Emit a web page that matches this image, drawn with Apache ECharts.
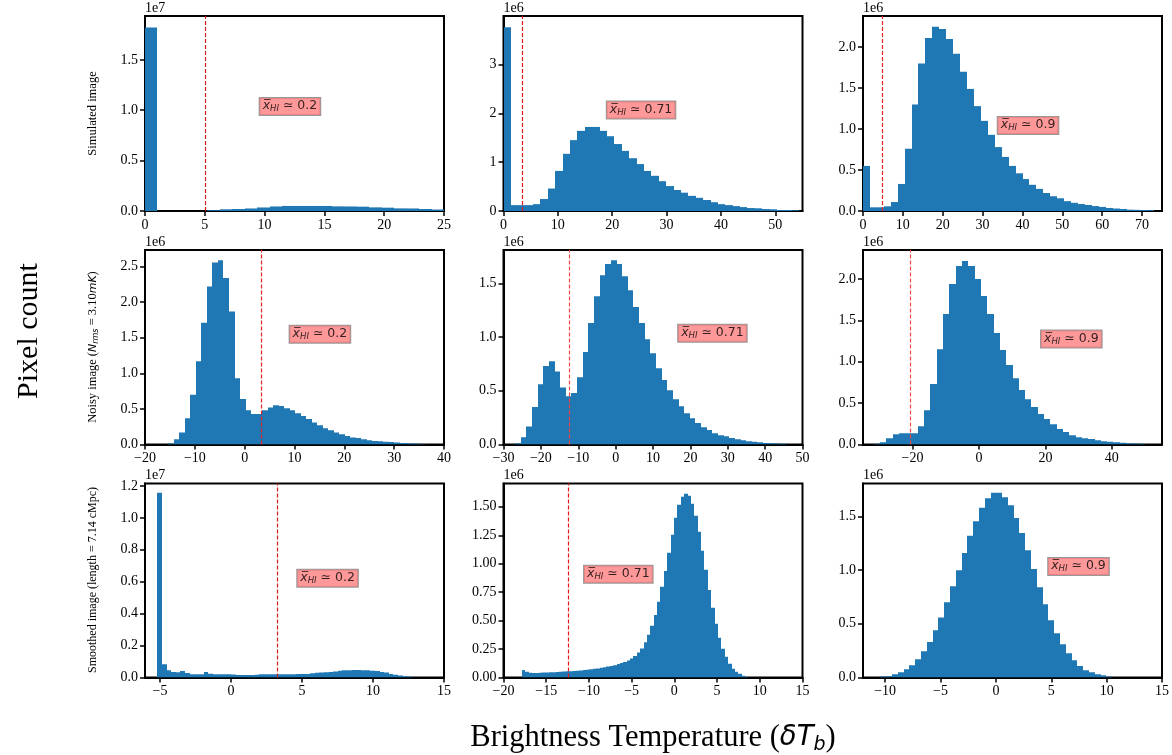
<!DOCTYPE html>
<html><head><meta charset="utf-8">
<script src="https://cdn.jsdelivr.net/npm/echarts@6/dist/echarts.min.js"></script>
<style>html,body{margin:0;padding:0;background:#fff}#c{width:1172px;height:755px}</style>
</head><body><div id="c"></div>
<script>
// ---------- DATA (counts in units of the axis offset: 1e7 or 1e6) ----------
const rowLabels = ['Simulated image', 'Noisy image', 'Smoothed image'];
const neutralFractions = ['0.2', '0.71', '0.9'];
const offsetTexts = ['1e7', '1e6', '1e6', '1e6', '1e6', '1e6', '1e7', '1e6', '1e6'];

const binStarts = [0, 0, 0, -15.3, -26.9, -31.7, -5.19, -17.86, -10.42];
const binWidths = [1.0417, 1.36, 1.74, 1.105, 1.508, 1.9, 0.326, 0.396, 0.523];

const simCounts02 = [1.82, 0, 0, 0, 0, 0.008, 0.017, 0.02, 0.025, 0.035, 0.045, 0.05, 0.05, 0.05, 0.05, 0.046, 0.045, 0.043, 0.036, 0.033, 0.026, 0.025, 0.02, 0.015];
const simCounts071 = [3.76, 0.12, 0.12, 0.12, 0.14, 0.245, 0.46, 0.82, 1.17, 1.45, 1.64, 1.72, 1.72, 1.64, 1.53, 1.37, 1.23, 1.08, 0.96, 0.82, 0.72, 0.61, 0.51, 0.43, 0.375, 0.31, 0.27, 0.225, 0.18, 0.14, 0.12, 0.10, 0.08, 0.06, 0.055, 0.04, 0.035, 0.02, 0.02, 0.015];
const simCounts09 = [0.55, 0.045, 0.045, 0.057, 0.11, 0.33, 0.76, 1.30, 1.80, 2.11, 2.25, 2.22, 2.10, 1.92, 1.70, 1.49, 1.28, 1.10, 0.93, 0.78, 0.66, 0.55, 0.46, 0.39, 0.32, 0.27, 0.22, 0.18, 0.155, 0.12, 0.10, 0.085, 0.073, 0.06, 0.05, 0.037, 0.03, 0.025, 0.016, 0.014, 0.012, 0.01];
const noisyCounts02 = [0.015, 0.075, 0.17, 0.37, 0.70, 1.17, 1.71, 2.22, 2.56, 2.59, 2.34, 1.87, 0.93, 0.64, 0.48, 0.43, 0.43, 0.48, 0.52, 0.55, 0.54, 0.51, 0.48, 0.44, 0.40, 0.36, 0.31, 0.27, 0.23, 0.20, 0.17, 0.145, 0.12, 0.10, 0.09, 0.075, 0.06, 0.05, 0.045, 0.04, 0.035, 0.028, 0.022, 0.018, 0.014, 0.01, 0.005];
const noisyCounts071 = [0.012, 0.068, 0.167, 0.35, 0.56, 0.73, 0.775, 0.68, 0.53, 0.45, 0.48, 0.625, 0.86, 1.13, 1.38, 1.575, 1.68, 1.715, 1.68, 1.565, 1.435, 1.28, 1.13, 0.98, 0.85, 0.71, 0.60, 0.505, 0.42, 0.355, 0.29, 0.245, 0.20, 0.16, 0.135, 0.105, 0.087, 0.077, 0.06, 0.05, 0.04, 0.03, 0.025, 0.02, 0.015, 0.012, 0.01, 0.006];
const noisyCounts09 = [0.008, 0.028, 0.077, 0.125, 0.137, 0.137, 0.137, 0.22, 0.415, 0.73, 1.15, 1.577, 1.94, 2.157, 2.218, 2.157, 2.0, 1.794, 1.577, 1.347, 1.141, 0.96, 0.80, 0.657, 0.548, 0.452, 0.367, 0.307, 0.246, 0.186, 0.15, 0.113, 0.089, 0.077, 0.065, 0.052, 0.04, 0.032, 0.028, 0.02, 0.016, 0.012, 0.008];
const smoothCounts02 = [1.157, 0.083, 0.046, 0.035, 0.033, 0.04, 0.028, 0.021, 0.021, 0.021, 0.035, 0.023, 0.021, 0.021, 0.021, 0.02, 0.019, 0.015, 0.015, 0.016, 0.016, 0.018, 0.02, 0.021, 0.021, 0.021, 0.021, 0.021, 0.021, 0.021, 0.022, 0.022, 0.022, 0.027, 0.029, 0.031, 0.033, 0.035, 0.038, 0.042, 0.045, 0.046, 0.047, 0.047, 0.046, 0.045, 0.042, 0.04, 0.035, 0.031, 0.022, 0.018, 0.013, 0.008, 0.006];
const smoothCounts071 = [0.065, 0.05, 0.042, 0.04, 0.04, 0.042, 0.044, 0.045, 0.046, 0.047, 0.048, 0.05, 0.052, 0.054, 0.056, 0.058, 0.06, 0.062, 0.065, 0.068, 0.072, 0.076, 0.08, 0.085, 0.09, 0.096, 0.102, 0.108, 0.118, 0.128, 0.137, 0.15, 0.168, 0.19, 0.22, 0.255, 0.31, 0.375, 0.454, 0.55, 0.665, 0.797, 0.937, 1.096, 1.254, 1.403, 1.518, 1.588, 1.614, 1.597, 1.527, 1.421, 1.28, 1.113, 0.946, 0.77, 0.612, 0.472, 0.349, 0.252, 0.182, 0.12, 0.076, 0.05, 0.032, 0.015, 0.006];
const smoothCounts09 = [0.01, 0.012, 0.03, 0.05, 0.078, 0.115, 0.17, 0.245, 0.33, 0.44, 0.56, 0.70, 0.85, 1.00, 1.16, 1.32, 1.456, 1.58, 1.67, 1.72, 1.72, 1.68, 1.605, 1.485, 1.345, 1.186, 1.01, 0.84, 0.683, 0.534, 0.413, 0.31, 0.227, 0.16, 0.106, 0.068, 0.05, 0.03, 0.02, 0.01];

const allCounts = [simCounts02, simCounts071, simCounts09, noisyCounts02, noisyCounts071, noisyCounts09, smoothCounts02, smoothCounts071, smoothCounts09];

const xRanges = [[0, 25], [0, 55], [0, 75], [-20, 40], [-30, 50], [-34.9, 55.1], [-6.06, 15], [-20, 15], [-12, 15]];
const yMaxes = [1.935, 3.99, 2.38, 2.734, 1.81, 2.35, 1.215, 1.705, 1.807];
const xTickLabels = [
  [0, 5, 10, 15, 20, 25], [0, 10, 20, 30, 40, 50], [0, 10, 20, 30, 40, 50, 60, 70],
  [-20, -10, 0, 10, 20, 30, 40], [-30, -20, -10, 0, 10, 20, 30, 40, 50], [-20, 0, 20, 40],
  [-5, 0, 5, 10, 15], [-20, -15, -10, -5, 0, 5, 10, 15], [-10, -5, 0, 5, 10, 15]
];
const yTickLabels = [
  [0, 0.5, 1.0, 1.5], [0, 1, 2, 3], [0, 0.5, 1.0, 1.5, 2.0],
  [0, 0.5, 1.0, 1.5, 2.0, 2.5], [0, 0.5, 1.0, 1.5], [0, 0.5, 1.0, 1.5, 2.0],
  [0, 0.2, 0.4, 0.6, 0.8, 1.0, 1.2], [0, 0.25, 0.5, 0.75, 1.0, 1.25, 1.5], [0, 0.5, 1.0, 1.5]
];
const yDecimals = [1, 0, 1, 1, 1, 1, 1, 2, 1];
const thresholdLines = [5.0, 3.5, 4.77, 3.24, -12.43, -20.7, 3.27, -12.38, null];
const annotationAt = [[12.12, 1.037], [25.3, 2.065], [41.4, 1.045], [15.1, 1.55], [25.9, 1.035], [27.8, 1.276], [6.8, 0.622], [-6.56, 0.908], [7.46, 1.033]];

// ---------- LAYOUT ----------
const colLeft = [145, 503.5, 863];
const rowTop = [16, 250, 483.5];
const rowH = [195, 194.5, 194];
const panelW = 299;
const SERIF = 'Liberation Serif';
const SANS = 'DejaVu Sans';
const lineColors = ['#d61a1a', '#e81515', '#ee2020', '#e82020', '#f04545', '#f04545', '#d61a1a', '#e81515', '#e81515'];

function fmt(v, d) {
  const s = Math.abs(v).toFixed(d);
  return (v < -1e-9 ? '\u2212' : '') + s;
}

const grids = [], xAxes = [], yAxes = [], series = [];
for (let i = 0; i < 9; i++) {
  const r = Math.floor(i / 3), c = i % 3;
  grids.push({
    left: colLeft[c], top: rowTop[r], width: panelW, height: rowH[r],
    show: true, borderColor: '#000', borderWidth: 2, backgroundColor: 'transparent',
    containLabel: false, outerBoundsMode: 'none'
  });
  const xt = xTickLabels[i], yt = yTickLabels[i], dec = yDecimals[i];
  xAxes.push({
    gridIndex: i, type: 'value', min: xRanges[i][0], max: xRanges[i][1],
    axisLine: { show: true, onZero: false, lineStyle: { color: '#000', width: 2 } },
    splitLine: { show: false },
    axisTick: { show: true, length: 5, lineStyle: { color: '#000', width: 1.5 }, customValues: xt },
    axisLabel: { customValues: xt, formatter: v => fmt(v, 0), fontFamily: SERIF, fontSize: 14, color: '#000', margin: 7 }
  });
  yAxes.push({
    gridIndex: i, type: 'value', min: 0, max: yMaxes[i],
    name: offsetTexts[i], nameLocation: 'end', nameGap: 1,
    nameTextStyle: { align: 'left', verticalAlign: 'bottom', fontFamily: SERIF, fontSize: 14, color: '#000', padding: 0 },
    axisLine: { show: true, onZero: false, lineStyle: { color: '#000', width: 2 } },
    splitLine: { show: false },
    axisTick: { show: true, length: 5, lineStyle: { color: '#000', width: 1.5 }, customValues: yt },
    axisLabel: { customValues: yt, formatter: v => fmt(v, dec), fontFamily: SERIF, fontSize: 14, color: '#000', margin: 7 }
  });
  const start = binStarts[i], w = binWidths[i];
  const data = allCounts[i].map((cnt, k) => [start + k * w, start + (k + 1) * w, cnt]);
  const s = {
    type: 'custom', xAxisIndex: i, yAxisIndex: i, clip: true,
    encode: { x: [0, 1], y: 2 },
    data: data,
    renderItem: (params, api) => {
      const p0 = api.coord([api.value(0), api.value(2)]);
      const p1 = api.coord([api.value(1), 0]);
      const xa = Math.round(p0[0]), xb = Math.round(p1[0]);
      return { type: 'rect', shape: { x: xa, y: p0[1], width: xb - xa, height: p1[1] - p0[1] },
        style: { fill: '#1f77b4' } };
    }
  };
  if (thresholdLines[i] !== null) {
    s.markLine = {
      silent: true, symbol: ['none', 'none'], label: { show: false },
      lineStyle: { color: lineColors[i], type: [4, 2], width: 1.2, opacity: 1 },
      data: [{ xAxis: thresholdLines[i] }]
    };
  }
  series.push(s);
  series.push({
    type: 'scatter', xAxisIndex: i, yAxisIndex: i, symbolSize: 1, silent: true,
    itemStyle: { color: 'rgba(0,0,0,0)' },
    data: [annotationAt[i]],
    label: {
      show: true, position: 'inside',
      formatter: '{x|x\u0305}{s|HI}{n| \u2243 ' + neutralFractions[c] + '}',
      backgroundColor: '#ff8080', borderColor: '#808080', borderWidth: 1, padding: [0, 3, 1, 3],
      rich: {
        x: { fontFamily: SANS, fontStyle: 'italic', fontSize: 12.5, color: '#000', lineHeight: 16 },
        s: { fontFamily: SANS, fontStyle: 'italic', fontSize: 8.5, color: '#000', lineHeight: 10, padding: [6, 0, 0, 0] },
        n: { fontFamily: SANS, fontSize: 12.5, color: '#000', lineHeight: 16 }
      }
    }
  });
}

const graphics = [
  { type: 'text', x: 93, y: 113.5, rotation: Math.PI / 2,
    style: { text: 'Simulated image', fontFamily: SERIF, fontSize: 12.5, fill: '#000', align: 'center', verticalAlign: 'middle' } },
  { type: 'text', x: 93, y: 347, rotation: Math.PI / 2,
    style: { text: '{t|Noisy image (}{m|N}{s|rms}{t| = 3.10}{m|mK}{t|)}', fill: '#000', align: 'center', verticalAlign: 'middle',
      rich: { t: { fontFamily: SERIF, fontSize: 12.5, lineHeight: 15 }, m: { fontFamily: SANS, fontStyle: 'italic', fontSize: 11, lineHeight: 15 },
        s: { fontFamily: SANS, fontStyle: 'italic', fontSize: 8, lineHeight: 9, padding: [5, 0, 0, 0] } } } },
  { type: 'text', x: 93, y: 580, rotation: Math.PI / 2,
    style: { text: 'Smoothed image (length = 7.14 cMpc)', fontFamily: SERIF, fontSize: 12, fill: '#000', align: 'center', verticalAlign: 'middle' } },
  { type: 'text', x: 29, y: 331, rotation: Math.PI / 2,
    style: { text: 'Pixel count', fontFamily: SERIF, fontSize: 30, fill: '#000', align: 'center', verticalAlign: 'middle' } },
  { type: 'text', x: 653, y: 738,
    style: { text: '{t|Brightness Temperature (}{m|\u03b4T}{s|b}{t|)}', fill: '#000', align: 'center', verticalAlign: 'middle',
      rich: { t: { fontFamily: SERIF, fontSize: 30.5, lineHeight: 36 }, m: { fontFamily: SANS, fontStyle: 'italic', fontSize: 27.5, lineHeight: 36 },
        s: { fontFamily: SANS, fontStyle: 'italic', fontSize: 19, lineHeight: 22, padding: [14, 0, 0, 0] } } } }
];

const chart = echarts.init(document.getElementById('c'), null, { renderer: 'canvas' });
chart.setOption({
  animation: false,
  backgroundColor: '#fff',
  grid: grids, xAxis: xAxes, yAxis: yAxes, series: series,
  graphic: graphics
});
</script></body></html>
